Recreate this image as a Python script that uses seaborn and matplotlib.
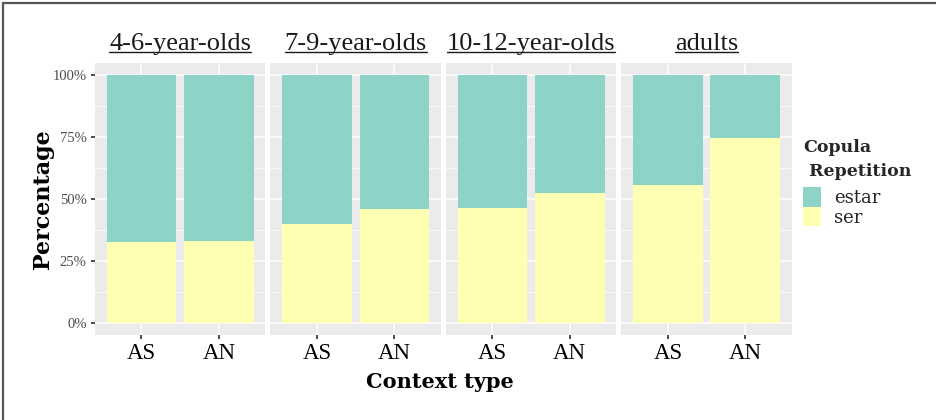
import numpy as np
import pandas as pd
import seaborn as sns
import matplotlib.pyplot as plt
from matplotlib.patches import Patch
from matplotlib.lines import Line2D
from matplotlib.ticker import FixedLocator, PercentFormatter

# values
groups = ['4-6-year-olds', '7-9-year-olds', '10-12-year-olds', 'adults']
contexts = ['AS', 'AN']
ser_pct = [[32.7, 33.0], [40.0, 46.1], [46.4, 52.4], [55.6, 74.7]]

teal = '#8DD3C7'
yellow = '#FFFFB3'
panel_bg = '#EBEBEB'

rows = []
for g, vals in zip(groups, ser_pct):
    for c, v in zip(contexts, vals):
        rows.append({'group': g, 'context': c, 'ser': v, 'total': 100.0})
df = pd.DataFrame(rows)

sns.set_theme(style='white')
plt.rcParams['font.family'] = ['Liberation Serif', 'DejaVu Serif']
wide = ['DejaVu Serif']

fig, axes = plt.subplots(1, 4, figsize=(9.37, 4.2), dpi=100, sharey=True)
fig.subplots_adjust(left=0.1014, right=0.845, top=0.85, bottom=0.2024, wspace=0.03)

titles = []
for ax, g in zip(axes, groups):
    sub = df[df['group'] == g]
    ax.set_facecolor(panel_bg)
    # estar fills to 100%, ser drawn over it from 0
    sns.barplot(data=sub, x='context', y='total', order=contexts, color=teal,
                width=0.9, saturation=1, ax=ax, zorder=2)
    sns.barplot(data=sub, x='context', y='ser', order=contexts, color=yellow,
                width=0.9, saturation=1, ax=ax, zorder=3)
    for p in ax.patches:
        p.set_edgecolor('none')
    ax.set_xlim(-0.6, 1.6)
    ax.set_ylim(-5, 105)
    ax.yaxis.set_major_locator(FixedLocator([0, 25, 50, 75, 100]))
    ax.yaxis.set_minor_locator(FixedLocator([12.5, 37.5, 62.5, 87.5]))
    ax.yaxis.set_major_formatter(PercentFormatter(decimals=0))
    ax.grid(True, which='major', color='white', linewidth=1.1, zorder=0)
    ax.grid(True, which='minor', axis='y', color='white', linewidth=0.55, zorder=0)
    ax.set_axisbelow(True)
    for s in ax.spines.values():
        s.set_visible(False)
    ax.set_xlabel('')
    ax.set_ylabel('')
    ax.tick_params(axis='x', which='major', length=3, color='#333333', labelsize=16.5,
                   labelcolor='black', pad=3, bottom=True)
    ax.tick_params(axis='y', which='major', length=3, color='#333333', labelsize=10.5,
                   labelcolor='#4D4D4D', pad=3, left=True)
    ax.tick_params(axis='y', which='minor', length=0)
    t = ax.set_title(g, fontsize=19, pad=9.5, color='#1A1A1A')
    titles.append(t)

for ax in axes[1:]:
    ax.tick_params(axis='y', which='major', left=False, labelleft=False)

fig.text(0.046, 0.527, 'Percentage', rotation=90, ha='center', va='center',
         fontsize=16, fontweight='bold', color='black', family=wide)
fig.text(0.469, 0.09, 'Context type', ha='center', va='center',
         fontsize=15, fontweight='bold', color='black', family=wide)

handles = [Patch(facecolor=teal, edgecolor='none'), Patch(facecolor=yellow, edgecolor='none')]
leg = fig.legend(handles, ['estar', 'ser'], title='Copula\n Repetition',
                 loc='upper left', bbox_to_anchor=(0.857, 0.668), frameon=False,
                 prop={'family': wide, 'size': 13},
                 title_fontproperties={'family': wide, 'size': 12.5, 'weight': 'bold'},
                 handlelength=1.0, handleheight=1.3,
                 handletextpad=0.7, labelspacing=0.0, borderaxespad=0, borderpad=0)
leg.get_title().set_linespacing(1.5)
leg._legend_box.align = 'left'
leg._legend_box.sep = 5

# underline the facet titles
fig.canvas.draw()
renderer = fig.canvas.get_renderer()
inv = fig.transFigure.inverted()
for t in titles:
    bb = t.get_window_extent(renderer)
    (x0, y0) = inv.transform((bb.x0, bb.y0 + 3))
    (x1, _) = inv.transform((bb.x1, bb.y0 + 3))
    fig.add_artist(Line2D([x0, x1], [y0, y0], transform=fig.transFigure,
                          color='#1A1A1A', linewidth=1.0))

# frame lines on top and left of the image
fig.add_artist(Line2D([0.003, 1.0], [0.993, 0.993], transform=fig.transFigure,
                      color='#555555', linewidth=1.6))
fig.add_artist(Line2D([0.003, 0.003], [0.0, 0.993], transform=fig.transFigure,
                      color='#555555', linewidth=1.6))

fig.savefig('out.png', dpi=100)
